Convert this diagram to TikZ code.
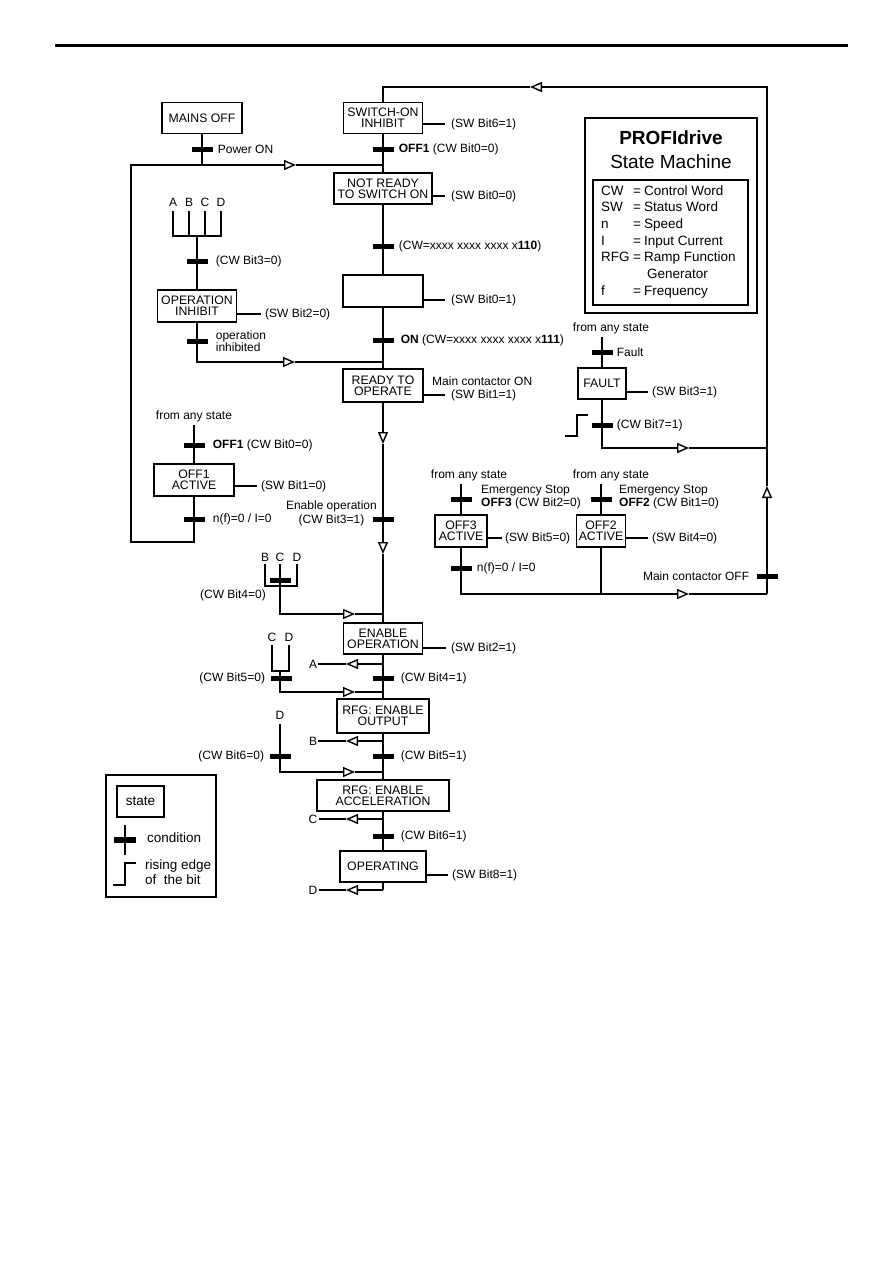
\documentclass[tikz,border=0pt]{standalone}
\usepackage{fontspec}
\setmainfont{Liberation Sans}
\usetikzlibrary{arrows.meta, positioning}

\begin{document}
\begin{tikzpicture}[
    x=1pt, y=-1pt,
    font=\fontsize{12}{11}\selectfont,
    state/.style={rectangle, draw=black, line width=1.8pt, align=center, inner sep=0pt,
                  minimum height=31pt, font=\fontsize{12.3}{11}\selectfont},
    cond/.style={rectangle, fill=black, inner sep=0pt, minimum width=21pt, minimum height=5pt},
    lbl/.style={inner sep=0pt, align=left},
    letter/.style={inner sep=0pt, outer sep=5pt},
    exit/.style={inner sep=1pt},
    anystate/.style={inner sep=3pt},
    big/.style={font=\fontsize{13.5}{15}\selectfont},
    link/.style={line width=1.4pt},
    flow/.style={link, -{Triangle[open, length=12pt, width=10pt]}}
]
    \useasboundingbox (0,0) rectangle (893,1263);
    \draw[line width=3pt] (55,46) -- (848,46);

    % states
    \node[state, minimum width=80pt] (mains) at (202,118) {MAINS OFF};
    \node[state, minimum width=79pt] (swinh) at (383,118) {SWITCH-ON\\INHIBIT};
    \node[state, minimum width=98pt] (notrdy) at (383,188.5) {NOT READY\\TO SWITCH ON};
    \node[state, minimum width=80pt, minimum height=32pt] (rdyon) at (383,291) {};
    \node[state, minimum width=80pt, minimum height=33pt] (rdyop) at (383,385.5) {READY TO\\OPERATE};
    \node[state, minimum width=79pt, minimum height=32pt] (opinh) at (197,306) {OPERATION\\INHIBIT};
    \node[state, minimum width=80pt, minimum height=32pt] (off1) at (194,480) {OFF1\\ACTIVE};
    \node[state, minimum width=79pt] (enop) at (383,638.5) {ENABLE\\OPERATION};
    \node[state, minimum width=92pt, minimum height=34pt] (rfgout) at (383,716) {RFG: ENABLE\\OUTPUT};
    \node[state, minimum width=132pt] (rfgacc) at (383,795.5) {RFG: ENABLE\\ACCELERATION};
    \node[state, minimum width=86pt] (oper) at (383,866.5) {OPERATING};
    \node[state, minimum width=48pt] (fault) at (602,383.5) {FAULT};
    \node[state, minimum width=52pt, minimum height=32pt] (off3) at (461,531) {OFF3\\ACTIVE};
    \node[state, minimum width=49pt, minimum height=32pt] (off2) at (601,531) {OFF2\\ACTIVE};

    % bends and arrow points
    \coordinate (topL) at (383,87);
    \coordinate (topR) at (767,87);
    \coordinate (topTip) at (530,87);
    \coordinate (botR) at (767,594);
    \coordinate (upTip) at (767,486);
    \coordinate (jPow) at (383,165);
    \coordinate (pTip) at (296,165);
    \coordinate (lTop) at (131,165);
    \coordinate (lBot) at (131,542);
    \coordinate (jInh) at (383,362);
    \coordinate (iTip) at (295,362);
    \coordinate (dTip1) at (383,444);
    \coordinate (dTip2) at (383,554);

    % main sequence
    \draw[flow] (botR) -- (upTip);
    \draw[flow] (upTip) -- (topR) -- (topTip);
    \draw[link] (topTip) -- (topL) -- (swinh);
    \draw[link] (swinh) -- (notrdy);
    \draw[link] (notrdy) -- (rdyon);
    \draw[link] (rdyon) -- (rdyop);
    \draw[flow] (rdyop) -- (dTip1);
    \draw[flow] (dTip1) -- (dTip2);
    \draw[link] (dTip2) -- (enop);
    \draw[link] (enop) -- (rfgout);
    \draw[link] (rfgout) -- (rfgacc);
    \draw[link] (rfgacc) -- (oper);

    % power on / off1 loop
    \draw[link] (mains) -- (mains |- jPow);
    \draw[flow] (off1) -- (off1 |- lBot) -- (lBot) -- (lTop) -- (pTip);
    \draw[link] (pTip) -- (jPow);
    \draw[flow] (opinh) -- (opinh |- jInh) -- (iTip);
    \draw[link] (iTip) -- (jInh);

    % A B C D into operation inhibit
    \node[letter] (lA) at (173,202) {A};
    \node[letter] (lB) at (189,202) {B};
    \node[letter] (lC) at (205,202) {C};
    \node[letter] (lD) at (221,202) {D};
    \coordinate (busI) at (197,236);
    \draw[link] (lA) -- (lA |- busI) -- (lD |- busI) -- (lD);
    \draw[link] (lB) -- (lB |- busI);
    \draw[link] (lC) -- (lC |- busI);
    \draw[link] (busI) -- (opinh);

    \node[anystate] (fa1) at (194,416) {from any state};
    \draw[link] (off1 |- fa1.south) -- (off1);

    % B C D into enable operation
    \node[letter, outer sep=3pt] (lB2) at (265,557) {B};
    \node[letter, outer sep=3pt] (lC2) at (280,557) {C};
    \node[letter, outer sep=3pt] (lD2) at (297,557) {D};
    \coordinate (bus4) at (280,586);
    \coordinate (j4) at (383,614);
    \coordinate (tip4) at (355,614);
    \draw[link] (lB2) -- (lB2 |- bus4) -- (lD2 |- bus4) -- (lD2);
    \draw[flow] (lC2) -- (lC2 |- j4) -- (tip4);
    \draw[link] (tip4) -- (j4);

    % C D into rfg enable output
    \node[letter, outer sep=4pt] (lC3) at (272,637) {C};
    \node[letter, outer sep=4pt] (lD3) at (289,637) {D};
    \coordinate (bus5) at (280,671);
    \coordinate (j5) at (383,692);
    \coordinate (tip5) at (355,692);
    \draw[link] (lC3) -- (lC3 |- bus5) -- (lD3 |- bus5) -- (lD3);
    \draw[flow] (bus5) -- (bus5 |- j5) -- (tip5);
    \draw[link] (tip5) -- (j5);

    % D into rfg enable acceleration
    \node[letter] (lD4) at (280,715) {D};
    \coordinate (j6) at (383,772);
    \coordinate (tip6) at (355,772);
    \draw[flow] (lD4) -- (lD4 |- j6) -- (tip6);
    \draw[link] (tip6) -- (j6);

    % exits A B C D
    \node[exit] (exA) at (313,664) {A};
    \node[exit] (exB) at (313,741) {B};
    \node[exit] (exC) at (313,819) {C};
    \node[exit] (exD) at (313,890) {D};
    \coordinate (jA) at (383,664);
    \coordinate (jB) at (383,741);
    \coordinate (jC) at (383,819);
    \coordinate (jD) at (383,890);
    \coordinate (tipA) at (346,664);
    \coordinate (tipB) at (346,741);
    \coordinate (tipC) at (346,819);
    \coordinate (tipD) at (346,890);
    \draw[flow] (jA) -- (tipA);
    \draw[link] (tipA) -- (exA);
    \draw[flow] (jB) -- (tipB);
    \draw[link] (tipB) -- (exB);
    \draw[flow] (jC) -- (tipC);
    \draw[link] (tipC) -- (exC);
    \draw[link] (oper) -- (jD);
    \draw[flow] (jD) -- (tipD);
    \draw[link] (tipD) -- (exD);

    % fault and off2 / off3
    \node[anystate] (fa2) at (611,328) {from any state};
    \node[anystate] (fa3) at (469,475) {from any state};
    \node[anystate] (fa4) at (611,475) {from any state};
    \coordinate (fBot) at (602,448);
    \coordinate (fTip) at (689,448);
    \draw[link] (fault |- fa2.south) -- (fault);
    \draw[flow] (fault) -- (fBot) -- (fTip);
    \draw[link] (fTip) -- (fTip -| botR);
    \draw[link] (565,436) -- (577,436) -- (577,415) -- (588,415);

    \coordinate (oBot) at (461,594);
    \coordinate (oTip) at (689,594);
    \draw[link] (off3 |- fa3.south) -- (off3);
    \draw[flow] (off3) -- (oBot) -- (oTip);
    \draw[link] (oTip) -- (botR);
    \draw[link] (off2 |- fa4.south) -- (off2);
    \draw[link] (off2) -- (off2 |- oBot);

    % conditions
    \node[cond] (cOff1) at (383,149) {};
    \node[lbl, right=5pt of cOff1] (tOff1) {\textbf{OFF1} (CW Bit0=0)};
    \node[cond] (cPow) at (202,149) {};
    \node[lbl, right=5pt of cPow] (tPow) {Power ON};
    \node[cond] (c110) at (383,246) {};
    \node[lbl, right=5pt of c110] (t110) {(CW=xxxx xxxx xxxx x\textbf{110})};
    \node[cond] (cOn) at (383,340) {};
    \node[lbl, right=7pt of cOn] (tOn) {\textbf{ON} (CW=xxxx xxxx xxxx x\textbf{111})};
    \node[cond] (cB3off) at (197,261) {};
    \node[lbl, right=8pt of cB3off] (tB3off) {(CW Bit3=0)};
    \node[cond] (cInh) at (197,341) {};
    \node[lbl, right=8pt of cInh] (tInh) {operation\\inhibited};
    \node[cond] (cOff1b) at (194,445) {};
    \node[lbl, right=8pt of cOff1b] (tOff1b) {\textbf{OFF1} (CW Bit0=0)};
    \node[cond] (cNf1) at (194,519) {};
    \node[lbl, right=8pt of cNf1] (tNf1) {n(f)=0 / I=0};
    \node[cond] (cEnOp) at (383,519) {};
    \node[lbl, align=center, anchor=east] (tEnOp) at (377,513) {Enable operation\\[2pt](CW Bit3=1)};
    \node[cond] (cB4off) at (280,580) {};
    \node[lbl, anchor=east] (tB4off) at (266,595) {(CW Bit4=0)};
    \node[cond] (cB4on) at (383,678) {};
    \node[lbl, right=7pt of cB4on] (tB4on) {(CW Bit4=1)};
    \node[cond] (cB5off) at (281,678) {};
    \node[lbl, left=5pt of cB5off] (tB5off) {(CW Bit5=0)};
    \node[cond] (cB5on) at (383,756) {};
    \node[lbl, right=7pt of cB5on] (tB5on) {(CW Bit5=1)};
    \node[cond] (cB6off) at (280,756) {};
    \node[lbl, left=5pt of cB6off] (tB6off) {(CW Bit6=0)};
    \node[cond] (cB6on) at (383,836) {};
    \node[lbl, right=7pt of cB6on] (tB6on) {(CW Bit6=1)};
    \node[cond] (cFault) at (602,352) {};
    \node[lbl, right=4pt of cFault] (tFault) {Fault};
    \node[cond] (cB7) at (602,425) {};
    \node[lbl, right=4pt of cB7] (tB7) {(CW Bit7=1)};
    \node[cond] (cOff3) at (461,499) {};
    \node[lbl, anchor=west] (tOff3) at (481,497) {Emergency Stop\\\textbf{OFF3} (CW Bit2=0)};
    \node[cond] (cOff2) at (601,499) {};
    \node[lbl, anchor=west] (tOff2) at (619,497) {Emergency Stop\\\textbf{OFF2} (CW Bit1=0)};
    \node[cond] (cNf3) at (461,568) {};
    \node[lbl, right=5pt of cNf3] (tNf3) {n(f)=0 / I=0};
    \node[cond] (cMcOff) at (767,576) {};
    \node[lbl, left=7pt of cMcOff] (tMcOff) {Main contactor OFF};

    % status words
    \coordinate (sSwinh) at (445,124);
    \coordinate (sNotrdy) at (445,196);
    \coordinate (sRdyon) at (445,300);
    \coordinate (sRdyop) at (445,395);
    \coordinate (sOpinh) at (261,314);
    \coordinate (sOff1) at (257,486);
    \coordinate (sEnop) at (446,648);
    \coordinate (sOper) at (448,875);
    \coordinate (sFault) at (648,392);
    \coordinate (sOff3) at (502,538);
    \coordinate (sOff2) at (648,538);
    \draw[link] (swinh.east |- sSwinh) -- (sSwinh);
    \draw[link] (notrdy.east |- sNotrdy) -- (sNotrdy);
    \draw[link] (rdyon.east |- sRdyon) -- (sRdyon);
    \draw[link] (rdyop.east |- sRdyop) -- (sRdyop);
    \draw[link] (opinh.east |- sOpinh) -- (sOpinh);
    \draw[link] (off1.east |- sOff1) -- (sOff1);
    \draw[link] (enop.east |- sEnop) -- (sEnop);
    \draw[link] (oper.east |- sOper) -- (sOper);
    \draw[link] (fault.east |- sFault) -- (sFault);
    \draw[link] (off3.east |- sOff3) -- (sOff3);
    \draw[link] (off2.east |- sOff2) -- (sOff2);
    \node[lbl, right=6pt of sSwinh] (tSwinh) {(SW Bit6=1)};
    \node[lbl, right=6pt of sNotrdy] (tNotrdy) {(SW Bit0=0)};
    \node[lbl, right=6pt of sRdyon] (tRdyon) {(SW Bit0=1)};
    \node[lbl, right=6pt of sRdyop] (tRdyop) {(SW Bit1=1)};
    \node[lbl, anchor=west] (tMcOn) at (432,381) {Main contactor ON};
    \node[lbl, right=4pt of sOpinh] (tOpinh) {(SW Bit2=0)};
    \node[lbl, right=4pt of sOff1] (tOff1s) {(SW Bit1=0)};
    \node[lbl, right=5pt of sEnop] (tEnop) {(SW Bit2=1)};
    \node[lbl, right=4pt of sOper] (tOper) {(SW Bit8=1)};
    \node[lbl, right=4pt of sFault] (tFaultS) {(SW Bit3=1)};
    \node[lbl, right=3pt of sOff3] (tOff3s) {(SW Bit5=0)};
    \node[lbl, right=4pt of sOff2] (tOff2s) {(SW Bit4=0)};

    % title and abbreviations
    \draw[line width=2.4pt] (585,118) rectangle (757,313);
    \draw[line width=1.8pt] (593,180) rectangle (748,305);
    \node[lbl, anchor=base, font=\fontsize{19}{24}\selectfont\bfseries] (title) at (671,144) {PROFIdrive};
    \node[lbl, anchor=base, font=\fontsize{19}{24}\selectfont] (subtitle) at (671,168) {State Machine};
    \node[lbl, anchor=base west, font=\fontsize{13.5}{16.67}\selectfont] (abbr) at (601,195)
        {\begin{tabular}[t]{@{}l@{\hspace{3.5pt}}l@{\hspace{3pt}}l@{}}
         CW & = & Control Word\\
         SW & = & Status Word\\
         n & = & Speed\\
         I & = & Input Current\\
         RFG & = & Ramp Function\\
             &   & \hspace{3pt}Generator\\
         f & = & Frequency
         \end{tabular}};

    % key
    \draw[line width=1.6pt] (106,775) rectangle (216,897);
    \node[state, big, minimum width=47pt] (kState) at (140.5,801.5) {state};
    \draw[link] (125,825) -- (125,855);
    \node[cond, minimum width=22pt, minimum height=6pt] (kCond) at (125,840) {};
    \node[lbl, big, anchor=west] (kCondT) at (147,838) {condition};
    \draw[link] (113,885) -- (125,885) -- (125,863) -- (136,863);
    \node[lbl, big, anchor=west] (kEdge) at (145,872) {rising edge\\of\ \ the bit};
\end{tikzpicture}
\end{document}
